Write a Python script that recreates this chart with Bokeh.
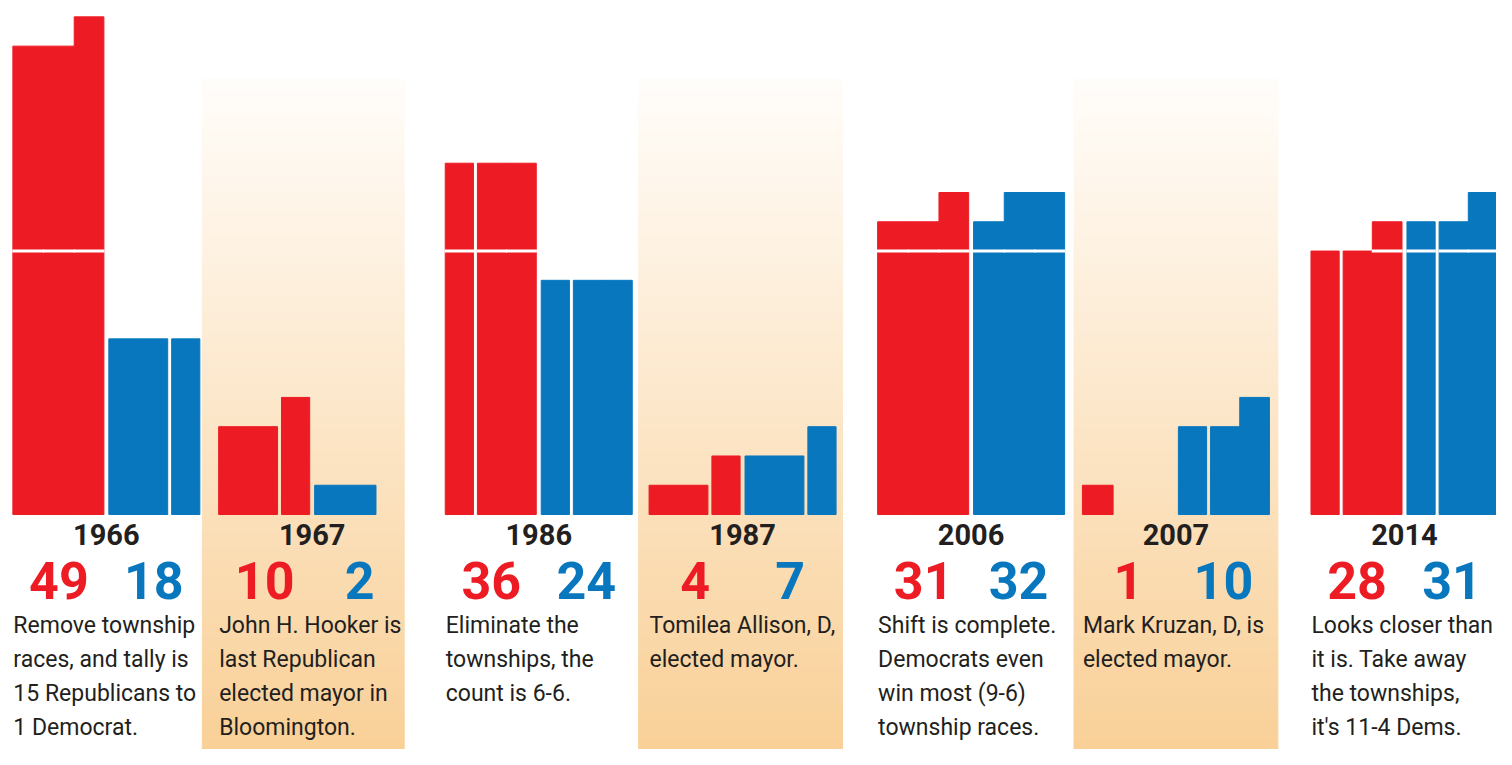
from bokeh.plotting import figure
from bokeh.models import Range1d, ColumnDataSource
from bokeh.core.properties import value
from bokeh.embed import file_html
from bokeh.resources import INLINE

# ---------------- data ----------------
years = ["1966", "1967", "1986", "1987", "2006", "2007", "2014"]
rep_total = [49, 10, 36, 4, 31, 1, 28]
dem_total = [18, 2, 24, 7, 32, 10, 31]
# seats per column of the 3-wide block charts (left to right)
rep_cols = [[16, 16, 17], [3, 3, 4], [12, 12, 12], [1, 1, 2], [10, 10, 11], [1, 0, 0], [9, 9, 10]]
dem_cols = [[6, 6, 6], [1, 1, 0], [8, 8, 8], [2, 2, 3], [10, 11, 11], [3, 3, 4], [10, 10, 11]]
# column index before which a white divider is drawn (None = no divider)
rep_split = [None, 2, 1, 2, None, None, 1]
dem_split = [2, None, 1, 2, None, 1, 1]
row_divider = 9
notes = [
    ["Remove township", "races, and tally is", "15 Republicans to", "1 Democrat."],
    ["John H. Hooker is", "last Republican", "elected mayor in", "Bloomington."],
    ["Eliminate the", "townships, the", "count is 6-6."],
    ["Tomilea Allison, D,", "elected mayor."],
    ["Shift is complete.", "Democrats even", "win most (9-6)", "township races."],
    ["Mark Kruzan, D, is", "elected mayor."],
    ["Looks closer than", "it is. Take away", "the townships,", "it's 11-4 Dems."],
]
shaded = [1, 3, 5]

# ---------------- layout ----------------
RED = "#ED1C24"
BLUE = "#0877BE"
INK = "#231F20"
CELL = 29.9          # px per seat row in reference
BASE = 525           # baseline px in reference
H = 765
group_x = [12, 220, 449, 655, 886, 1093, 1324]
panel_x = [(204, 408), (645, 851), (1085, 1291)]
COLW = 31
BLUE_OFF = 97
FONT = "Roboto"


def u(py):
    return (BASE - py) / CELL


p = figure(width=1496, height=749, x_range=Range1d(0, 1512),
           y_range=Range1d(u(H), u(0)), output_backend="svg",
           toolbar_location=None, min_border=0)
p.axis.visible = False
p.grid.visible = False
p.outline_line_color = None
p.background_fill_color = "white"

# gradient panels
top_c = (255, 253, 250)
bot_c = (249, 208, 152)
N = 90
ptop, pbot = 80, H
for (x0, x1) in panel_x:
    L, R, B, T, C = [], [], [], [], []
    for k in range(N):
        f = k / (N - 1)
        y0 = ptop + (pbot - ptop) * k / N
        y1 = ptop + (pbot - ptop) * (k + 1) / N
        c = tuple(int(round(top_c[j] + (bot_c[j] - top_c[j]) * f)) for j in range(3))
        L.append(x0); R.append(x1); T.append(u(y0)); B.append(u(y1) - 0.01)
        C.append("#%02x%02x%02x" % c)
    p.quad(left=L, right=R, top=T, bottom=B, fill_color=C, line_color=C, line_width=1)

# bars
for gi in range(len(years)):
    for cols, off, color, split in ((rep_cols[gi], 0, RED, rep_split[gi]),
                                    (dem_cols[gi], BLUE_OFF, BLUE, dem_split[gi])):
        lefts = [group_x[gi] + off + i * COLW + 0.5 for i in range(3)]
        rights = [l + COLW - 1.0 for l in lefts]
        # make adjacent columns touch (outline covers seams) except at a divider
        for i in range(2):
            if split is not None and split == i + 1:
                rights[i] = lefts[i] + COLW - 2.5
                lefts[i + 1] = lefts[i + 1] + 1.5
            else:
                rights[i] = lefts[i + 1]
        idx = [i for i in range(3) if cols[i] > 0]
        p.quad(left=[lefts[i] for i in idx], right=[rights[i] for i in idx],
               bottom=0, top=[cols[i] for i in idx],
               fill_color=color, line_color=color, line_width=1)
        # horizontal divider
        hidx = [i for i in range(3) if cols[i] > row_divider]
        if hidx:
            p.segment(x0=[lefts[i] - 0.6 for i in hidx], y0=[row_divider] * len(hidx),
                      x1=[rights[i] + 0.6 for i in hidx], y1=[row_divider] * len(hidx),
                      line_color="white", line_width=3)

# year labels
ysrc = ColumnDataSource(dict(x=[g + 95 for g in group_x], y=[u(545)] * len(years), t=years))
p.text(x="x", y="y", text="t", source=ysrc, text_font=value(FONT), text_font_style="bold",
       text_font_size="29px", text_color=INK, text_align="center", text_baseline="middle")

# totals
rsrc = ColumnDataSource(dict(x=[g + 47 for g in group_x], y=[u(592)] * len(years),
                             t=[str(v) for v in rep_total]))
p.text(x="x", y="y", text="t", source=rsrc, text_font=value(FONT), text_font_style="bold",
       text_font_size="52px", text_color=RED, text_align="center", text_baseline="middle")
dsrc = ColumnDataSource(dict(x=[g + 143 for g in group_x], y=[u(592)] * len(years),
                             t=[str(v) for v in dem_total]))
p.text(x="x", y="y", text="t", source=dsrc, text_font=value(FONT), text_font_style="bold",
       text_font_size="52px", text_color=BLUE, text_align="center", text_baseline="middle")

# notes
nx, ny, nt = [], [], []
for gi, lines in enumerate(notes):
    for li, line in enumerate(lines):
        nx.append(group_x[gi] + 1)
        ny.append(u(638 + li * 35))
        nt.append(line)
nsrc = ColumnDataSource(dict(x=nx, y=ny, t=nt))
p.text(x="x", y="y", text="t", source=nsrc, text_font=value(FONT),
       text_font_size="23px", text_color=INK, text_align="left", text_baseline="middle")

open("out.html", "w").write(file_html(p, INLINE))
